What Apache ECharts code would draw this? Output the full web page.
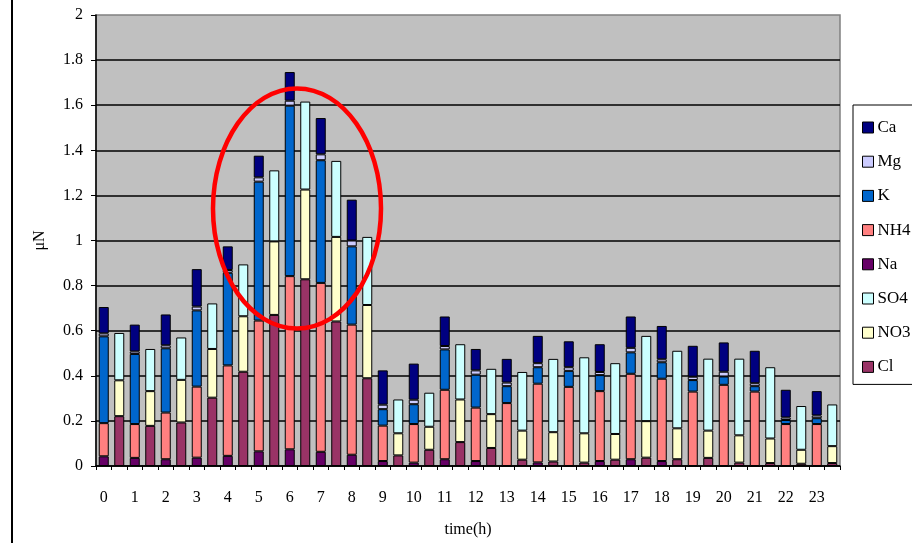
<!DOCTYPE html>
<html>
<head>
<meta charset="utf-8">
<script src="https://cdn.jsdelivr.net/npm/echarts@6/dist/echarts.min.js"></script>
<style>
html,body{margin:0;padding:0;background:#fff;}
#c{width:912px;height:543px;}
</style>
</head>
<body>
<div id="c"></div>
<script>
// tick labels (hours)
var hours = ['0','1','2','3','4','5','6','7','8','9','10','11','12','13','14','15','16','17','18','19','20','21','22','23'];
// cations (μN), stacked bottom -> top
var Na  = [0.043,0.036,0.030,0.037,0.045,0.065,0.074,0.063,0.050,0.022,0.015,0.030,0.022,0.000,0.016,0.000,0.022,0.030,0.022,0.000,0.000,0.000,0.000,0.000];
var NH4 = [0.147,0.150,0.207,0.315,0.401,0.580,0.768,0.749,0.577,0.157,0.171,0.308,0.237,0.279,0.349,0.351,0.310,0.379,0.365,0.330,0.360,0.330,0.186,0.186];
var K   = [0.385,0.311,0.285,0.338,0.411,0.616,0.756,0.544,0.347,0.073,0.088,0.179,0.146,0.075,0.073,0.071,0.071,0.095,0.073,0.051,0.037,0.024,0.018,0.026];
var Mg  = [0.013,0.011,0.013,0.017,0.012,0.019,0.022,0.026,0.026,0.020,0.020,0.015,0.019,0.016,0.018,0.016,0.014,0.020,0.013,0.015,0.021,0.013,0.011,0.012];
var Ca  = [0.117,0.119,0.137,0.166,0.105,0.096,0.127,0.161,0.181,0.152,0.160,0.131,0.095,0.105,0.121,0.115,0.123,0.139,0.148,0.137,0.130,0.144,0.123,0.108];
// anions (μN), stacked bottom -> top
var Cl  = [0.221,0.178,0.193,0.303,0.418,0.670,0.828,0.641,0.389,0.047,0.072,0.106,0.080,0.028,0.020,0.015,0.028,0.037,0.030,0.036,0.015,0.013,0.010,0.013];
var NO3 = [0.159,0.154,0.189,0.216,0.246,0.326,0.398,0.375,0.325,0.098,0.102,0.189,0.150,0.129,0.130,0.130,0.114,0.162,0.137,0.121,0.121,0.109,0.062,0.075];
var SO4 = [0.210,0.187,0.188,0.202,0.230,0.315,0.390,0.337,0.302,0.150,0.151,0.245,0.201,0.260,0.325,0.337,0.314,0.378,0.344,0.319,0.340,0.316,0.194,0.185];

var colors = {Ca:'#000080', Mg:'#CCCCFF', K:'#0066CC', NH4:'#FF8080', Na:'#660066', SO4:'#CCFFFF', NO3:'#FFFFCC', Cl:'#993366'};

// two bars per hour: cation bar (left), anion bar (right)
var cats = [];
hours.forEach(function(h){ cats.push(h); cats.push(''); });
function spread(arr, slot){
  var out = [];
  arr.forEach(function(v){
    if (slot === 0) { out.push(v); out.push('-'); }
    else { out.push('-'); out.push(v); }
  });
  return out;
}
var font = 'Liberation Serif';
function mk(name, arr, slot){
  return {
    name: name, type: 'bar', stack: 'all', barWidth: 10,
    data: spread(arr, slot),
    itemStyle: {color: colors[name], borderColor: '#000', borderWidth: 1},
    emphasis: {disabled: true}
  };
}
var series = [
  mk('Na', Na, 0), mk('NH4', NH4, 0), mk('K', K, 0), mk('Mg', Mg, 0), mk('Ca', Ca, 0),
  mk('Cl', Cl, 1), mk('NO3', NO3, 1), mk('SO4', SO4, 1)
];

var chart = echarts.init(document.getElementById('c'), null, {renderer: 'canvas'});
chart.setOption({
  animation: false,
  backgroundColor: '#fff',
  grid: {left: 96, right: 72, top: 15, bottom: 71, show: true, backgroundColor: '#C0C0C0', borderColor: '#808080', borderWidth: 1.5},
  legend: {
    orient: 'vertical', left: 853, top: 105,
    data: ['Ca','Mg','K','NH4','Na','SO4','NO3','Cl'],
    icon: 'rect', itemWidth: 11, itemHeight: 11, itemGap: 17.2,
    padding: [14, 40, 9, 9],
    borderColor: '#000', borderWidth: 1, backgroundColor: '#fff',
    itemStyle: {borderColor: '#000', borderWidth: 1},
    textStyle: {fontFamily: font, fontSize: 17, color: '#000', lineHeight: 16, padding: [0,0,0,-1]},
    selectedMode: false
  },
  xAxis: {
    type: 'category', data: cats,
    name: 'time(h)', nameLocation: 'middle', nameGap: 56,
    nameTextStyle: {fontFamily: font, fontSize: 16, color: '#000'},
    axisLine: {lineStyle: {color: '#000', width: 1.5}},
    axisTick: {show: true, interval: 0, length: 4, lineStyle: {color: '#000'}},
    axisLabel: {interval: 0, margin: 24, fontFamily: font, fontSize: 16, color: '#000'}
  },
  yAxis: {
    type: 'value', min: 0, max: 2, interval: 0.2,
    name: 'μN', nameLocation: 'middle', nameGap: 48, nameRotate: 90,
    nameTextStyle: {fontFamily: font, fontSize: 16, color: '#000'},
    axisLine: {show: true, lineStyle: {color: '#000', width: 1.5}},
    axisTick: {show: true, length: 5, lineStyle: {color: '#000'}},
    axisLabel: {margin: 13, fontFamily: font, fontSize: 16, color: '#000'},
    splitLine: {show: true, showMaxLine: false, lineStyle: {color: '#000', width: 1.5}}
  },
  series: series,
  graphic: [
    {type: 'line', shape: {x1: 12, y1: 0, x2: 12, y2: 543}, style: {stroke: '#000', lineWidth: 2}, z: 100},
    {type: 'ellipse', shape: {cx: 297, cy: 208.5, rx: 84, ry: 120}, style: {fill: 'none', stroke: '#FF0000', lineWidth: 4.5}, z: 100}
  ]
});
</script>
</body>
</html>
